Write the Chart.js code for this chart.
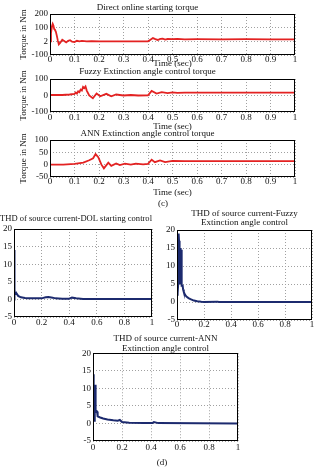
<!DOCTYPE html>
<html>
<head>
<meta charset="utf-8">
<script src="https://cdn.jsdelivr.net/npm/chart.js@4.4.1/dist/chart.umd.min.js"></script>
<style>
  body { margin: 0; background: #fff; }
  #fig { position: relative; width: 325px; height: 471px; overflow: hidden; background: #fff; }
  #fig canvas { position: absolute; }
  .cap { position: absolute; font: 9px "Liberation Serif", serif; color: #111; transform: translate(-50%, -50%); white-space: nowrap; }
</style>
</head>
<body>
<div id="fig">
  <canvas id="c1" width="325" height="70" style="left:0;top:0"></canvas>
  <canvas id="c2" width="325" height="66" style="left:0;top:66px"></canvas>
  <canvas id="c3" width="325" height="70" style="left:0;top:128px"></canvas>
  <canvas id="c4" width="160" height="120" style="left:0;top:210px"></canvas>
  <canvas id="c5" width="165" height="125" style="left:160px;top:205px"></canvas>
  <canvas id="c6" width="165" height="125" style="left:80px;top:330px"></canvas>
  <div class="cap" style="left:163px;top:203px">(c)</div>
  <div class="cap" style="left:162px;top:462px">(d)</div>
</div>
<script>
// torque, DOL start
const dolTime   = [0, 0.004, 0.008, 0.011, 0.014, 0.017, 0.02, 0.024, 0.028, 0.032, 0.036, 0.042, 0.05, 0.058, 0.066, 0.074, 0.082, 0.09, 0.1, 0.11, 0.12, 0.13, 0.15, 0.17, 0.2, 0.25, 0.3, 0.35, 0.4, 0.41, 0.42, 0.43, 0.44, 0.45, 0.46, 0.47, 0.48, 0.5, 0.52, 0.55, 0.6, 0.7, 0.8, 0.9, 1.0];
const dolTorque = [0, 60, 110, 128, 115, 90, 85, 70, 40, 5, -22, -10, 12, 2, -8, 4, 8, -3, -6, 4, 0, 3, -1, 1, 0, 0, 0, 0, 0, 12, 24, 16, 10, 18, 20, 13, 17, 16, 18, 15, 16, 15, 16, 15, 15];

// torque, fuzzy extinction angle control
const fuzzyTime   = [0, 0.05, 0.08, 0.1, 0.105, 0.11, 0.115, 0.12, 0.125, 0.13, 0.135, 0.14, 0.145, 0.15, 0.16, 0.175, 0.19, 0.205, 0.23, 0.25, 0.27, 0.3, 0.33, 0.36, 0.4, 0.415, 0.435, 0.456, 0.48, 0.5, 0.52, 0.55, 0.6, 0.8, 1.0];
const fuzzyTorque = [3, 3, 6, 10, 18, 12, 25, 20, 36, 30, 52, 45, 55, 30, 0, -17, 12, -5, 10, -5, 6, 0, 3, 0, 1, 28, 12, 20, 14, 19, 16, 18, 17, 18, 18];

// torque, ANN extinction angle control
const annTime   = [0, 0.054, 0.1, 0.136, 0.16, 0.176, 0.186, 0.197, 0.21, 0.22, 0.238, 0.25, 0.27, 0.285, 0.306, 0.33, 0.35, 0.38, 0.4, 0.415, 0.428, 0.449, 0.47, 0.5, 0.55, 0.7, 1.0];
const annTorque = [0, 0, 3, 8, 18, 26, 43, 30, 0, -15, 8, -5, 5, -2, 4, 0, 4, 1, 3, 20, 10, 17, 10, 15, 14, 14, 14];

// THD of source current
const thdDolTime   = [0, 0.002, 0.005, 0.01, 0.015, 0.02, 0.03, 0.05, 0.08, 0.1, 0.15, 0.2, 0.23, 0.25, 0.28, 0.3, 0.35, 0.4, 0.42, 0.45, 0.5, 1.0];
const thdDol       = [0, 14, 1.8, 1.8, 1.5, 1.6, 1, 0.6, 0.4, 0.3, 0.3, 0.3, 0.6, 0.7, 0.5, 0.3, 0.2, 0.2, 0.5, 0.3, 0.1, 0.1];
const thdFuzzyTime = [0, 0.003, 0.006, 0.009, 0.012, 0.015, 0.017, 0.019, 0.021, 0.023, 0.025, 0.027, 0.029, 0.031, 0.033, 0.036, 0.042, 0.045, 0.05, 0.06, 0.07, 0.085, 0.1, 0.125, 0.15, 0.18, 0.2, 0.3, 0.31, 1.0];
const thdFuzzy     = [2, 4, 2.5, 5, 19, 17, 8, 15.5, 6, 15, 5, 15, 6, 14.5, 5, 4.5, 4.5, 3.5, 2.8, 2, 1.5, 1.1, 0.8, 0.4, 0.2, 0.05, 0, 0.1, 0, 0];
const thdAnnTime   = [0, 0.003, 0.006, 0.009, 0.012, 0.015, 0.018, 0.021, 0.028, 0.032, 0.05, 0.07, 0.1, 0.14, 0.17, 0.185, 0.2, 0.25, 0.35, 0.41, 0.42, 0.45, 1.0];
const thdAnn       = [1, 14, 1.5, 0.8, 2, 11, 3.5, 3.8, 3.4, 2, 1.7, 1.4, 1.1, 0.9, 0.8, 1, 0.4, 0.2, 0.1, 0.1, 0.4, 0.1, 0];

// ticks
const torqueXTicks = [0, 0.1, 0.2, 0.3, 0.4, 0.5, 0.6, 0.7, 0.8, 0.9, 1];
const thdXTicks = [0, 0.2, 0.4, 0.6, 0.8, 1];
const dolYTicks = [-100, 0, 100, 200];
const dolYLabels = ['-100', '2', '100', '200'];
const fuzzyYTicks = [-100, 0, 100];
const annYTicks = [-50, 0, 50, 100];
const thdYTicks = [-5, 0, 5, 10, 15, 20];

Chart.defaults.font.family = '"Liberation Serif", "Times New Roman", serif';
Chart.defaults.font.size = 9;
Chart.defaults.color = '#111';

const frame = {
  id: 'frame',
  afterDatasetsDraw(chart) {
    const a = chart.chartArea, ctx = chart.ctx;
    ctx.save();
    ctx.strokeStyle = '#000';
    ctx.lineWidth = 1;
    ctx.strokeRect(Math.round(a.left) + 0.5, Math.round(a.top) + 0.5, Math.round(a.width) - 1, Math.round(a.height) - 1);
    ctx.restore();
  }
};

function pts(xs, ys) {
  return xs.map((x, i) => ({ x: x, y: ys[i] }));
}

function plot(id, o) {
  const xAxis = {
    type: 'linear', min: 0, max: 1,
    afterBuildTicks: s => { s.ticks = o.xTicks.map(v => ({ value: v })); },
    afterFit: s => { s.height = o.xH; s.paddingLeft = 0; s.paddingRight = 0; },
    grid: { color: '#a0a0a0', drawTicks: false },
    border: { display: false, dash: [1, 2] },
    ticks: { autoSkip: false, maxRotation: 0, padding: o.xPad, font: { size: 9, lineHeight: '10px' },
             callback: v => String(+v.toFixed(2)) },
    title: { display: !!o.xTitle, text: o.xTitle || '', padding: { top: 0, bottom: o.xTitlePad || 0 },
             font: { size: 9, lineHeight: '10px' } }
  };
  const yAxis = {
    type: 'linear', min: o.yTicks[0], max: o.yTicks[o.yTicks.length - 1],
    afterBuildTicks: s => { s.ticks = o.yTicks.map(v => ({ value: v })); },
    afterFit: s => { s.width = o.yW; s.paddingTop = 0; s.paddingBottom = 0; },
    grid: { color: '#a0a0a0', drawTicks: false },
    border: { display: false, dash: [1, 2] },
    ticks: { autoSkip: false, padding: 2, font: { size: 9, lineHeight: '10px' },
             callback: (v, i) => (o.yLabels ? o.yLabels[i] : String(v)) },
    title: { display: !!o.yTitle, text: o.yTitle || '', padding: o.yTitlePad || 0,
             font: { size: 9, lineHeight: '10px' } }
  };
  return new Chart(document.getElementById(id), {
    type: 'line',
    data: {
      datasets: [{
        data: pts(o.xs, o.ys),
        borderColor: o.color,
        borderWidth: o.lw,
        pointRadius: 0,
        tension: 0
      }]
    },
    options: {
      responsive: false,
      animation: false,
      parsing: false,
      layout: { padding: o.pad },
      plugins: {
        legend: { display: false },
        tooltip: { enabled: false },
        title: { display: true, text: o.title, color: '#111', fullSize: o.fullTitle !== false,
                 font: { size: 9, weight: 'normal', lineHeight: o.titleLH || '10px' },
                 padding: o.titlePad }
      },
      scales: { x: xAxis, y: yAxis }
    },
    plugins: [frame]
  });
}

const red = '#e32222';
const navy = '#1c2a6e';

plot('c1', {
  title: 'Direct online starting torque', titlePad: { top: 3, bottom: 1 },
  xs: dolTime, ys: dolTorque, color: red, lw: 1.8,
  xTicks: torqueXTicks, yTicks: dolYTicks, yLabels: dolYLabels,
  pad: { left: 0, right: 30, top: 0, bottom: 0 }, yW: 50, xH: 15, xPad: 0,
  xTitle: 'Time (sec)', xTitlePad: 1, yTitle: 'Torque in Nm', yTitlePad: 19
});

plot('c2', {
  title: 'Fuzzy Extinction angle control torque', titlePad: { top: 1, bottom: 2 },
  xs: fuzzyTime, ys: fuzzyTorque, color: red, lw: 1.8,
  xTicks: torqueXTicks, yTicks: fuzzyYTicks,
  pad: { left: 0, right: 30, top: 0, bottom: 0 }, yW: 50, xH: 20, xPad: 1,
  xTitle: 'Time (sec)', xTitlePad: 0, yTitle: 'Torque in Nm', yTitlePad: 19
});

plot('c3', {
  title: 'ANN Extinction angle control torque', titlePad: { top: 1, bottom: 1 },
  xs: annTime, ys: annTorque, color: red, lw: 1.8,
  xTicks: torqueXTicks, yTicks: annYTicks,
  pad: { left: 0, right: 30, top: 0, bottom: 0 }, yW: 50, xH: 21, xPad: 0,
  xTitle: 'Time (sec)', xTitlePad: 0, yTitle: 'Torque in Nm', yTitlePad: 19
});

plot('c4', {
  title: 'THD of source current-DOL starting control', titlePad: { top: 4, bottom: 5 },
  xs: thdDolTime, ys: thdDol, color: navy, lw: 2,
  xTicks: thdXTicks, yTicks: thdYTicks,
  pad: { left: 0, right: 8, top: 0, bottom: 0 }, yW: 14, xH: 13, xPad: 1
});

plot('c5', {
  title: ['THD of source current-Fuzzy', 'Extinction angle control'], titleLH: '9px',
  titlePad: { top: 4.5, bottom: 2.5 }, fullTitle: false,
  xs: thdFuzzyTime, ys: thdFuzzy, color: navy, lw: 2,
  xTicks: thdXTicks, yTicks: thdYTicks,
  pad: { left: 0, right: 13, top: 0, bottom: 0 }, yW: 17, xH: 10, xPad: 0
});

plot('c6', {
  title: ['THD of source current-ANN', 'Extinction angle control'], titleLH: '9.5px',
  titlePad: { top: 4.25, bottom: 0 }, fullTitle: false,
  xs: thdAnnTime, ys: thdAnn, color: navy, lw: 2,
  xTicks: thdXTicks, yTicks: thdYTicks,
  pad: { left: 0, right: 7, top: 0, bottom: 0 }, yW: 13, xH: 14, xPad: 2
});
</script>
</body>
</html>
